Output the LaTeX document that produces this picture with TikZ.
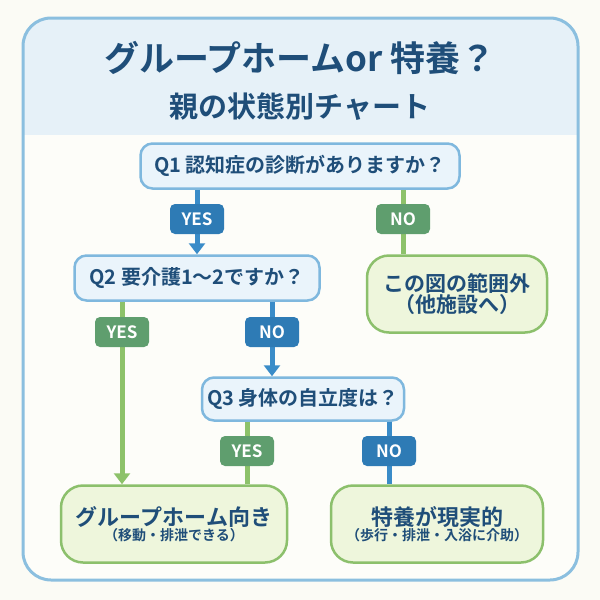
\documentclass[tikz,border=0pt]{standalone}
\usepackage{fontspec}
\setmainfont{Noto Sans CJK JP Bold}
\usetikzlibrary{arrows.meta}
\definecolor{frame}{HTML}{8BBFDF}
\definecolor{head}{HTML}{E6F1F8}
\definecolor{body}{HTML}{FBFBF5}
\definecolor{ink}{HTML}{1F4E79}
\definecolor{qfill}{HTML}{EAF4FB}
\definecolor{qline}{HTML}{7FB8DE}
\definecolor{gfill}{HTML}{EEF6DC}
\definecolor{gline}{HTML}{8CC06C}
\definecolor{blab}{HTML}{2E7BB5}
\definecolor{glab}{HTML}{5F9E6E}
\definecolor{bcon}{HTML}{3A8CC8}
\definecolor{gcon}{HTML}{8DC26A}
\tikzset{
 qbox/.style={draw=qline,fill=qfill,line width=2.5pt,rounded corners=12pt,text=ink,font=\fontsize{20}{22}\selectfont},
 rbox/.style={draw=gline,fill=gfill,line width=2.5pt,rounded corners=22pt,text=ink,align=center},
 blabel/.style={fill=blab,text=white,rounded corners=5pt,minimum width=54pt,minimum height=30pt,inner sep=0pt,font=\fontsize{17}{17}\selectfont},
 glabel/.style={blabel,fill=glab},
 bline/.style={draw=bcon,line width=5pt},
 gline2/.style={draw=gcon,line width=5pt},
 tip/.style={-{Triangle[width=16pt,length=11pt]}}
}
\begin{document}
\begin{tikzpicture}[x=1pt,y=-1pt]
\fill[body] (0,0) rectangle (600,600);
\useasboundingbox (0,0) rectangle (600,600);
\begin{scope}
\clip[rounded corners=28pt] (23,18) rectangle (578,580);
\fill[white!40!body] (23,18) rectangle (578,580);
\fill[head] (23,18) rectangle (578,135);
\end{scope}
\draw[frame,line width=3pt,rounded corners=28pt] (23,18) rectangle (578,580);
\node[text=ink,font=\fontsize{35}{35}\selectfont] (title) at (300,58) {グループホームor 特養？};
\node[text=ink,font=\fontsize{29}{29}\selectfont] (sub) at (300,107) {親の状態別チャート};
% boxes
\node[qbox,minimum width=319pt,minimum height=45pt] (q1) at (300,166) {Q1 認知症の診断がありますか？};
\node[qbox,minimum width=245pt,minimum height=45pt] (q2) at (197,278) {Q2 要介護1～2ですか？};
\node[qbox,minimum width=202pt,minimum height=43pt] (q3) at (303,399) {Q3 身体の自立度は？};
\node[rbox,minimum width=180pt,minimum height=77pt] (out) at (457,294) {\fontsize{21}{30}\selectfont この図の範囲外\\ \fontsize{21}{30}\selectfont （他施設へ）};
\node[rbox,minimum width=226pt,minimum height=77pt] (gh) at (174,524) {\fontsize{22}{30}\selectfont グループホーム向き\\ \fontsize{14}{22}\selectfont （移動・排泄できる）};
\node[rbox,minimum width=212pt,minimum height=77pt] (tk) at (437,524) {\fontsize{22}{30}\selectfont 特養が現実的\\ \fontsize{14}{22}\selectfont （歩行・排泄・入浴に介助）};
% labels
\coordinate (c1) at (197,0); \coordinate (c2) at (403,0);
\coordinate (c3) at (122,0); \coordinate (c4) at (272,0);
\coordinate (c5) at (247,0); \coordinate (c6) at (389,0);
\draw[bline,tip] (q1.south -| c1) -- (q2.north -| c1);
\draw[gline2] (q1.south -| c2) -- (out.north -| c2);
\draw[gline2,tip] (q2.south -| c3) -- (gh.north -| c3);
\draw[bline,tip] (q2.south -| c4) -- (q3.north -| c4);
\draw[gline2] (q3.south -| c5) -- (gh.north -| c5);
\draw[bline] (q3.south -| c6) -- (tk.north -| c6);
\node[blabel] (y1) at (197,219) {YES};
\node[glabel] (n1) at (403,219) {NO};
\node[glabel] (y2) at (122,332) {YES};
\node[blabel] (n2) at (272,332) {NO};
\node[glabel] (y3) at (247,451) {YES};
\node[blabel] (n3) at (389,451) {NO};
\end{tikzpicture}
\end{document}
